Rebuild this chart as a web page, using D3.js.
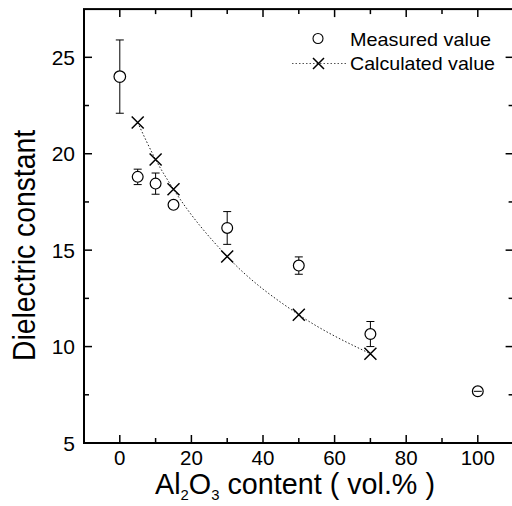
<!DOCTYPE html>
<html><head><meta charset="utf-8">
<script src="https://cdn.jsdelivr.net/npm/d3@7"></script>
<style>body{margin:0;background:#fff}svg{display:block}text{font-family:"Liberation Sans",Arial,sans-serif;fill:#000}</style>
</head><body><svg id="c" width="512" height="506"></svg>
<script>
// Measured values
const measX = [0, 5, 10, 15, 30, 50, 70, 100];
const measY = [24.0, 18.8, 18.45, 17.35, 16.15, 14.2, 10.65, 7.68];
const measErr = [1.9, 0.4, 0.55, 0, 0.85, 0.45, 0.65, 0];
// Calculated values
const calcX = [5, 10, 15, 30, 50, 70];
const calcY = [21.62, 19.7, 18.16, 14.67, 11.65, 9.63];
const xTicks = [0, 20, 40, 60, 80, 100];
const yTicks = [5, 10, 15, 20, 25];
const legendLabels = ["Measured value", "Calculated value"];

const svg = d3.select("#c");
const L = 84, R = 513.6, T = 9.1, B = 443;
const x = d3.scaleLinear().domain([-10, 110]).range([L, R]);
const y = d3.scaleLinear().domain([5, 27.5]).range([B, T]);

const g = svg.append("g");
// frame
g.append("rect").attr("x", L).attr("y", T).attr("width", R - L).attr("height", B - T)
  .attr("fill", "none").attr("stroke", "#000").attr("stroke-width", 2);

// ticks (inward)
const xMinor = d3.range(-10, 111, 10).filter(v => !xTicks.includes(v) && v > -10 && v < 110);
const yMinor = d3.range(7.5, 27.5, 5);
function tickSet(vals, len) {
  vals.forEach(v => {
    g.append("line").attr("x1", x(v)).attr("x2", x(v)).attr("y1", B).attr("y2", B - len).attr("stroke", "#000").attr("stroke-width", 1.5);
    g.append("line").attr("x1", x(v)).attr("x2", x(v)).attr("y1", T).attr("y2", T + len).attr("stroke", "#000").attr("stroke-width", 1.5);
  });
}
tickSet(xTicks, 8); tickSet(xMinor, 5);
function ytickSet(vals, len) {
  vals.forEach(v => {
    g.append("line").attr("y1", y(v)).attr("y2", y(v)).attr("x1", L).attr("x2", L + len).attr("stroke", "#000").attr("stroke-width", 1.5);
    g.append("line").attr("y1", y(v)).attr("y2", y(v)).attr("x1", R).attr("x2", R - len).attr("stroke", "#000").attr("stroke-width", 1.5);
  });
}
ytickSet(yTicks.filter(v => v > 5), 8); ytickSet(yMinor, 5);

// tick labels
g.selectAll(".xl").data(xTicks).enter().append("text")
  .attr("x", d => x(d)).attr("y", 465).attr("text-anchor", "middle")
  .attr("font-size", 20.5).text(d => d);
g.selectAll(".yl").data(yTicks).enter().append("text")
  .attr("x", 75).attr("y", d => y(d)).attr("dy", "0.36em").attr("text-anchor", "end")
  .attr("font-size", 21).text(d => d);

// calculated curve
const calc = calcX.map((v, i) => [v, calcY[i]]);
g.append("path").datum(calc)
  .attr("d", d3.line().x(d => x(d[0])).y(d => y(d[1])).curve(d3.curveMonotoneX))
  .attr("fill", "none").attr("stroke", "#222").attr("stroke-width", 1).attr("stroke-dasharray", "1.5,2");

// error bars
const meas = measX.map((v, i) => ({x: v, y: measY[i], e: measErr[i]}));
meas.filter(d => d.e > 0).forEach(d => {
  const cx = x(d.x), t = y(d.y + d.e), b = y(d.y - d.e);
  g.append("line").attr("x1", cx).attr("x2", cx).attr("y1", t).attr("y2", b).attr("stroke", "#000").attr("stroke-width", 1);
  [t, b].forEach(yy => g.append("line").attr("x1", cx - 4).attr("x2", cx + 4).attr("y1", yy).attr("y2", yy).attr("stroke", "#000").attr("stroke-width", 1));
});
// circles
g.selectAll(".m").data(meas).enter().append("circle")
  .attr("cx", d => x(d.x)).attr("cy", d => y(d.y)).attr("r", d => d.x === 0 ? 5.8 : 5.4)
  .attr("fill", "#fff").attr("stroke", "#000").attr("stroke-width", 1.2);
// small error line visible inside the 100 vol.% circle
meas.filter(d => d.x === 100).forEach(d => {
  g.append("line").attr("x1", x(d.x) - 4).attr("x2", x(d.x) + 4).attr("y1", y(d.y)).attr("y2", y(d.y)).attr("stroke", "#000").attr("stroke-width", 1);
});
// crosses
function cross(cx, cy, s) {
  g.append("path").attr("d", `M${cx - s},${cy - s}L${cx + s},${cy + s}M${cx - s},${cy + s}L${cx + s},${cy - s}`)
    .attr("stroke", "#000").attr("stroke-width", 1.5).attr("fill", "none");
}
calc.forEach(d => cross(x(d[0]), y(d[1]), 6));

// legend
g.append("circle").attr("cx", 318).attr("cy", 38.5).attr("r", 5).attr("fill", "#fff").attr("stroke", "#000").attr("stroke-width", 1.1);
g.append("line").attr("x1", 292).attr("x2", 346).attr("y1", 63.5).attr("y2", 63.5)
  .attr("stroke", "#555").attr("stroke-width", 1).attr("stroke-dasharray", "1.5,2");
cross(318.5, 63.5, 5.5);
g.append("text").attr("x", 350).attr("y", 45.5).attr("font-size", 19)
  .attr("textLength", 141).attr("lengthAdjust", "spacingAndGlyphs").text(legendLabels[0]);
g.append("text").attr("x", 350).attr("y", 70).attr("font-size", 19)
  .attr("textLength", 145).attr("lengthAdjust", "spacingAndGlyphs").text(legendLabels[1]);

// axis titles
g.append("text").attr("transform", "translate(35,245.5) rotate(-90)").attr("text-anchor", "middle")
  .attr("font-size", 31).attr("textLength", 231).attr("lengthAdjust", "spacingAndGlyphs").text("Dielectric constant");

const xt = g.append("g").attr("transform", "translate(155,494)");
const xtext = xt.append("text").attr("font-size", 29);
xtext.append("tspan").text("Al");
xtext.append("tspan").attr("font-size", 15).attr("dy", 6).text("2");
xtext.append("tspan").attr("dy", -6).text("O");
xtext.append("tspan").attr("font-size", 15).attr("dy", 6).text("3");
xtext.append("tspan").attr("dy", -6).text(" content ( vol.% )");
const w = xtext.node().getComputedTextLength();
xtext.attr("transform", `scale(${280 / w},1)`);
</script></body></html>
